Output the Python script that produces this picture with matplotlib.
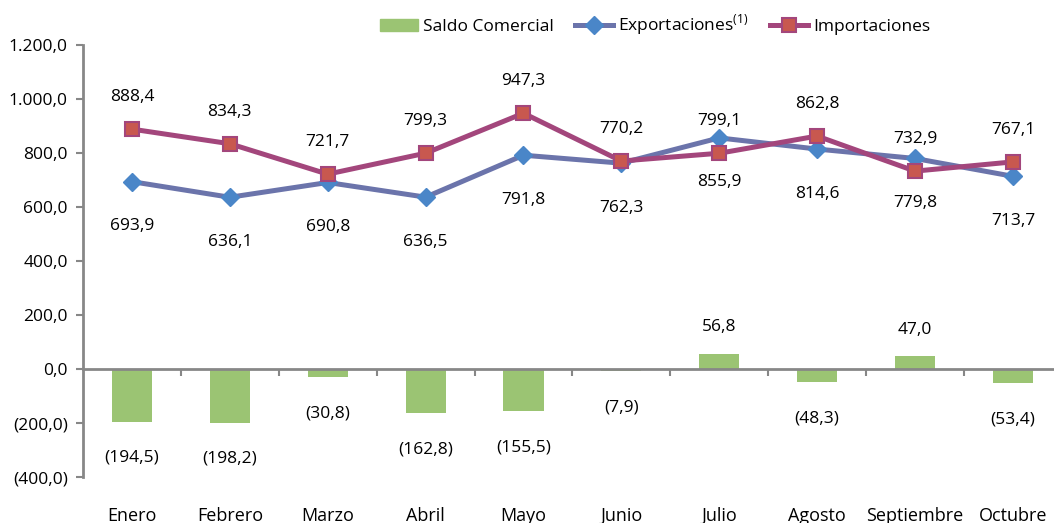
import matplotlib
matplotlib.use("Agg")
import matplotlib.pyplot as plt
from matplotlib.ticker import FuncFormatter, FixedLocator
from matplotlib.lines import Line2D
from matplotlib.patches import Patch

months = ["Enero", "Febrero", "Marzo", "Abril", "Mayo", "Junio", "Julio",
          "Agosto", "Septiembre", "Octubre"]
exportaciones = [693.9, 636.1, 690.8, 636.5, 791.8, 762.3, 855.9, 814.6, 779.8, 713.7]
importaciones = [888.4, 834.3, 721.7, 799.3, 947.3, 770.2, 799.1, 862.8, 732.9, 767.1]
saldo = [-194.5, -198.2, -30.8, -162.8, -155.5, -7.9, 56.8, -48.3, 47.0, -53.4]

plt.rcParams['font.family'] = ['Open Sans', 'DejaVu Sans']

def fmt(v):
    s = f"{abs(v):,.1f}".replace(",", "X").replace(".", ",").replace("X", ".")
    return f"({s})" if v < 0 else s

fig = plt.figure(figsize=(10.54, 5.23), dpi=100)
ax = fig.add_axes([83/1054, 46/523, 1 - 83/1054, 432/523])

x = list(range(len(months)))
green = "#9bc473"
blue_line = "#6b74ab"
blue_mark = "#4a86c8"
red_line = "#a3467c"
red_fill = "#c8584f"
gray = "#878787"

ax.bar(x, saldo, width=0.41, color=green, zorder=2)
ax.plot(x, exportaciones, color=blue_line, lw=3.6, marker="D", ms=9.5,
        mfc=blue_mark, mec=blue_mark, zorder=3)
ax.plot(x, importaciones, color=red_line, lw=3.6, marker="s", ms=10,
        mfc=red_fill, mec=red_line, mew=1.5, zorder=4)

fs = 12.5
for i in x:
    ax.annotate(fmt(importaciones[i]), (i, importaciones[i]), xytext=(0, 23),
                textcoords="offset points", ha="center", va="center", fontsize=fs)
    ax.annotate(fmt(exportaciones[i]), (i, exportaciones[i]), xytext=(0, -32),
                textcoords="offset points", ha="center", va="center", fontsize=fs)
    off = -26 if saldo[i] < 0 else 19
    ax.annotate(fmt(saldo[i]), (i, saldo[i]), xytext=(0, off),
                textcoords="offset points", ha="center", va="center", fontsize=fs)
    ax.annotate(months[i], (i, -400), xytext=(0, -28), textcoords="offset points",
                ha="center", va="center", fontsize=fs + 0.5)

ax.set_ylim(-400, 1200)
ax.set_xlim(-0.5, 9.42)
ax.set_yticks(range(-400, 1201, 200))
ax.yaxis.set_major_formatter(FuncFormatter(lambda v, p: fmt(v)))
ax.tick_params(axis="y", labelsize=fs, length=5, width=1.5, color=gray, pad=6)

ax.spines["top"].set_visible(False)
ax.spines["right"].set_visible(False)
ax.spines["left"].set_color(gray)
ax.spines["left"].set_linewidth(2)
ax.spines["bottom"].set_position(("data", 0))
ax.spines["bottom"].set_color(gray)
ax.spines["bottom"].set_linewidth(2)
ax.xaxis.set_major_locator(FixedLocator([i + 0.5 for i in x[:-1]]))
ax.set_xticklabels([])
ax.tick_params(axis="x", length=5, width=1.5, color=gray, direction="out")

handles = [Patch(color=green),
           Line2D([], [], color=blue_line, lw=3.6, marker="D", ms=9.5, mfc=blue_mark, mec=blue_mark),
           Line2D([], [], color=red_line, lw=3.6, marker="s", ms=10, mfc=red_fill, mec=red_line, mew=1.5)]
labels = ["Saldo Comercial", "Exportaciones$^{\\mathregular{(1)}}$", "Importaciones"]
fig.legend(handles, labels, loc="center", bbox_to_anchor=(655/1054, 1 - 25/523), ncol=3,
           frameon=False, fontsize=fs, handlelength=2.2, handletextpad=0.3, columnspacing=1.2)

fig.savefig("out.png", dpi=100)
